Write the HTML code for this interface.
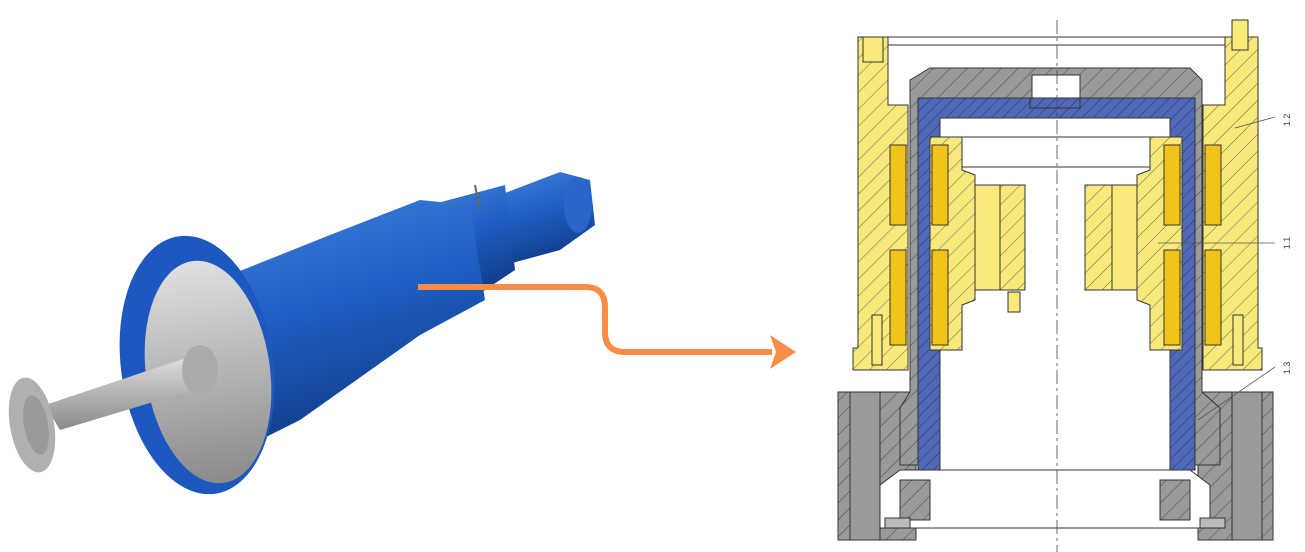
<!DOCTYPE html>
<html><head><meta charset="utf-8"><style>
html,body{margin:0;padding:0;background:#fff;}
svg{display:block;}
</style></head><body>
<svg width="1305" height="552" viewBox="0 0 1305 552" xmlns="http://www.w3.org/2000/svg">
<defs>
<pattern id="hy" width="12" height="12" patternUnits="userSpaceOnUse" patternTransform="rotate(45)">
<rect width="12" height="12" fill="#f7ea7a"/><line x1="0" y1="0" x2="0" y2="12" stroke="#444" stroke-width="0.8"/></pattern>
<pattern id="hg" width="12" height="12" patternUnits="userSpaceOnUse" patternTransform="rotate(45)">
<rect width="12" height="12" fill="#9a9a9a"/><line x1="0" y1="0" x2="0" y2="12" stroke="#333" stroke-width="0.8"/></pattern>
<pattern id="hb" width="8" height="8" patternUnits="userSpaceOnUse" patternTransform="rotate(45)">
<rect width="8" height="8" fill="#5068b8"/><line x1="0" y1="0" x2="0" y2="8" stroke="#223" stroke-width="0.8"/></pattern>
<linearGradient id="steel" x1="0" y1="0" x2="0" y2="1"><stop offset="0" stop-color="#e0e0e0"/><stop offset="0.5" stop-color="#b5b5b5"/><stop offset="1" stop-color="#8a8a8a"/></linearGradient>
<linearGradient id="blu" x1="0" y1="0" x2="0.3" y2="1"><stop offset="0" stop-color="#3f7fd8"/><stop offset="0.5" stop-color="#1f5fc4"/><stop offset="1" stop-color="#113d8a"/></linearGradient>
</defs>

<!-- Motor photo -->
<polygon points="500,195 560,172 590,180 595,225 560,250 505,265" fill="url(#blu)"/>
<ellipse cx="578" cy="205" rx="14" ry="28" fill="#2a66c8"/>
<polygon points="430,205 505,185 515,270 470,300" fill="url(#blu)"/>
<polygon points="230,275 330,235 420,200 470,205 485,300 420,335 300,420 260,440" fill="url(#blu)"/>
<line x1="475" y1="185" x2="480" y2="210" stroke="#666" stroke-width="2"/>
<ellipse cx="197" cy="365" rx="76" ry="130" fill="#1d58c0" transform="rotate(-8 197 365)"/>
<ellipse cx="208" cy="372" rx="62" ry="112" fill="url(#steel)" transform="rotate(-8 208 372)"/>
<polygon points="195,355 210,385 60,430 45,405" fill="url(#steel)"/>
<ellipse cx="200" cy="370" rx="18" ry="25" fill="#aaa"/>
<ellipse cx="32" cy="425" rx="22" ry="48" fill="#b0b0b0" transform="rotate(-10 32 425)"/>
<ellipse cx="36" cy="425" rx="12" ry="30" fill="#9a9a9a" transform="rotate(-10 36 425)"/>

<!-- Orange arrow -->
<path d="M418,287 H585 Q605,287 605,307 V332 Q605,352 625,352 H772" fill="none" stroke="#f98c46" stroke-width="6"/>
<polygon points="770,335 796,352 770,369 776,352" fill="#f98c46"/>

<!-- Cross-section drawing -->
<g stroke="#333" stroke-width="1">
<line x1="885" y1="37" x2="1232" y2="37"/>
<line x1="885" y1="45" x2="1225" y2="45"/>
<!-- bottom gray base -->
<rect x="838" y="392" width="78" height="148" fill="url(#hg)"/>
<rect x="1198" y="392" width="75" height="148" fill="url(#hg)"/>
<rect x="850" y="392" width="30" height="148" fill="#9a9a9a"/>
<rect x="1232" y="392" width="30" height="148" fill="#9a9a9a"/>
<polygon points="900,470 1190,470 1210,485 1210,528 880,528 880,485" fill="#fff"/>
<rect x="900" y="480" width="30" height="40" fill="url(#hg)"/>
<rect x="1160" y="480" width="30" height="40" fill="url(#hg)"/>
<rect x="885" y="518" width="25" height="10" fill="#bbb"/>
<rect x="1200" y="518" width="25" height="10" fill="#bbb"/>
<!-- yellow outer housings -->
<polygon points="858,37 888,37 888,105 908,105 908,348 908,370 853,370 853,348 858,348" fill="url(#hy)"/>
<polygon points="1225,37 1258,37 1258,348 1262,348 1262,370 1203,370 1203,105 1225,105" fill="url(#hy)"/>
<rect x="1232" y="20" width="16" height="30" fill="#f7ea7a"/>
<rect x="863" y="37" width="20" height="25" fill="#f7ea7a"/>
<rect x="872" y="315" width="10" height="50" fill="#f7ea7a"/>
<rect x="1233" y="315" width="10" height="50" fill="#f7ea7a"/>
<!-- gray cap/wall -->
<path d="M930,68 H1190 L1202,80 V392 L1220,408 V465 H1190 V108 H920 V465 H900 V408 L910,392 V80 Z" fill="url(#hg)"/>
<rect x="1032" y="75" width="48" height="28" fill="#fff"/>
<!-- blue liner -->
<path d="M918,98 H1195 V470 H1170 V118 H940 V470 H918 Z" fill="url(#hb)"/>
<rect x="1030" y="98" width="50" height="10" fill="url(#hb)"/>
<!-- inner rotor yellow -->
<polygon points="930,137 962,137 962,170 975,175 975,185 1025,185 1025,290 975,290 975,300 962,305 962,350 930,350" fill="url(#hy)"/>
<polygon points="1150,137 1182,137 1182,350 1150,350 1150,305 1137,300 1137,290 1085,290 1085,185 1137,185 1137,175 1150,170" fill="url(#hy)"/>
<rect x="962" y="137" width="188" height="30" fill="#fff"/>
<rect x="975" y="185" width="25" height="105" fill="#f7ea7a"/>
<rect x="1112" y="185" width="25" height="105" fill="#f7ea7a"/>
<rect x="1008" y="292" width="12" height="20" fill="#f7ea7a"/>
<!-- bearings -->
<g fill="#f2c41a">
<rect x="890" y="145" width="16" height="80"/><rect x="890" y="250" width="16" height="95"/>
<rect x="932" y="145" width="16" height="80"/><rect x="932" y="250" width="16" height="95"/>
<rect x="1164" y="145" width="16" height="80"/><rect x="1164" y="250" width="16" height="95"/>
<rect x="1205" y="145" width="16" height="80"/><rect x="1205" y="250" width="16" height="95"/>
</g>
</g>
<line x1="1057" y1="20" x2="1057" y2="552" stroke="#444" stroke-width="0.8" stroke-dasharray="14,4,3,4"/>
<g stroke="#555" stroke-width="0.8">
<line x1="1235" y1="128" x2="1275" y2="117"/>
<line x1="1158" y1="243" x2="1275" y2="243"/>
<line x1="1198" y1="420" x2="1275" y2="367"/>
</g>
<g font-family="Liberation Sans, sans-serif" font-size="9" fill="#333">
<text x="1290" y="120" transform="rotate(-90 1290 120)" text-anchor="middle">1.2</text>
<text x="1290" y="243" transform="rotate(-90 1290 243)" text-anchor="middle">1.1</text>
<text x="1290" y="368" transform="rotate(-90 1290 368)" text-anchor="middle">1.3</text>
</g>
</svg>
</body></html>
